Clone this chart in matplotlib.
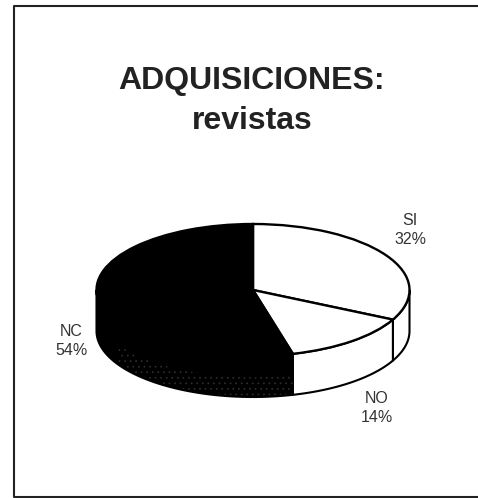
import numpy as np
import matplotlib
matplotlib.use('Agg')
import matplotlib.pyplot as plt
from matplotlib.lines import Line2D

labels = ['SI\n32%', 'NO\n14%', 'NC\n54%']
values = [32.4, 13.5, 54.1]
colors = ['white', 'white', 'black']

plt.rcParams['font.family'] = ['Liberation Sans', 'DejaVu Sans']
plt.rcParams['hatch.linewidth'] = 0.5

W = 478
H = 498
cx = 253
cy = 290
rx = 156.5
ry = 66
depth = 41 / ry

fig = plt.figure(figsize=(W / 100, H / 100), dpi=100)
ax = fig.add_axes([0, 0, 1, 1])

# pie on top, flattened by the axes limits
wedges, _ = ax.pie(values, colors=colors, startangle=90, counterclock=False, radius=1,
                   wedgeprops={'edgecolor': 'black', 'linewidth': 1.7})
for w in wedges:
    w.set_zorder(3)
ax.set_aspect('auto')
ax.set_xlim(-cx / rx, (W - cx) / rx)
ax.set_ylim(-(H - cy) / ry, cy / ry)

# side wall, only the front half of each slice shows
a = 90.0
for v, c in zip(values, colors):
    b = a - v * 3.6
    lo = max(b, -180)
    hi = min(a, 0)
    if lo < hi:
        t = np.radians(np.linspace(hi, lo, 80))
        x = np.cos(t)
        y = np.sin(t)
        ax.fill(np.r_[x, x[::-1]], np.r_[y, y[::-1] - depth], facecolor=c,
                edgecolor='black', linewidth=1.5, zorder=2)
        if c == 'black':
            # speckled scan patch along the bottom of the dark wall
            t2 = np.radians(np.linspace(hi, -150, 60))
            x2 = np.cos(t2)
            y2 = np.sin(t2)
            ax.fill(np.r_[x2, x2[::-1]], np.r_[y2 - depth + 0.02, y2[::-1] - depth + 0.3], facecolor='none',
                    edgecolor='#303030', hatch='...', linewidth=0, zorder=2.5)
    a = b

# labels
label_px = [(410, 230), (377, 408), (71, 341)]
for s, (px, py) in zip(labels, label_px):
    ax.text((px - cx) / rx, (cy - py) / ry, s, ha='center', va='center', fontsize=11.5,
            color='#333333', linespacing=1.4)

fig.text(252 / W, 1 - 89 / H, 'ADQUISICIONES:', ha='center', va='baseline', fontsize=23,
         fontweight='bold', color='#222222')
fig.text(252 / W, 1 - 129 / H, 'revistas', ha='center', va='baseline', fontsize=23,
         fontweight='bold', color='#222222')

# outer frame, open on the right
fig.add_artist(Line2D([1, 14 / W, 14 / W, 1], [1 - 6 / H, 1 - 6 / H, 1 - 497 / H, 1 - 497 / H],
                      color='#222222', linewidth=1.5, transform=fig.transFigure))

fig.savefig('out.png', dpi=100)
